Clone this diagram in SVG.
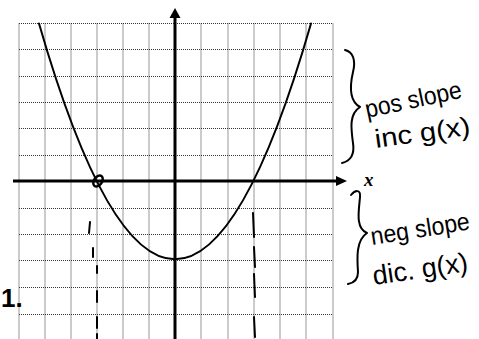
<svg xmlns="http://www.w3.org/2000/svg" width="479" height="339" viewBox="0 0 479 339">
<defs>
<style>
.grid line{stroke:#333;stroke-width:1;stroke-dasharray:1 1}
.axis{stroke:#000;stroke-width:3;fill:none}
.ink{stroke:#000;stroke-width:2;fill:none;stroke-linecap:round;stroke-linejoin:round}
.hand{font-family:"Liberation Sans",Arial,sans-serif;fill:#000}
</style>
</defs>
<rect width="479" height="339" fill="#fff"/>
<g id="grid" class="grid">
<line x1="19" y1="23.5" x2="19" y2="339"/>
<line x1="45" y1="23.5" x2="45" y2="339"/>
<line x1="71" y1="23.5" x2="71" y2="339"/>
<line x1="97" y1="23.5" x2="97" y2="339"/>
<line x1="123" y1="23.5" x2="123" y2="339"/>
<line x1="149" y1="23.5" x2="149" y2="339"/>
<line x1="201" y1="23.5" x2="201" y2="339"/>
<line x1="228" y1="23.5" x2="228" y2="339"/>
<line x1="254" y1="23.5" x2="254" y2="339"/>
<line x1="280" y1="23.5" x2="280" y2="339"/>
<line x1="306" y1="23.5" x2="306" y2="339"/>
<line x1="333" y1="23.5" x2="333" y2="339"/>
<line x1="19" y1="23.5" x2="333" y2="23.5"/>
<line x1="19" y1="49.5" x2="333" y2="49.5"/>
<line x1="19" y1="76.5" x2="333" y2="76.5"/>
<line x1="19" y1="102.5" x2="333" y2="102.5"/>
<line x1="19" y1="128.5" x2="333" y2="128.5"/>
<line x1="19" y1="155.5" x2="333" y2="155.5"/>
<line x1="19" y1="208.5" x2="333" y2="208.5"/>
<line x1="19" y1="234.5" x2="333" y2="234.5"/>
<line x1="19" y1="260.5" x2="333" y2="260.5"/>
<line x1="19" y1="287.5" x2="333" y2="287.5"/>
<line x1="19" y1="314.5" x2="333" y2="314.5"/>
</g>
<g id="axes">
<line class="axis" x1="175" y1="16" x2="175" y2="339"/>
<polygon points="175,8 169.5,18 180.5,18" fill="#000"/>
<line class="axis" x1="13" y1="181" x2="338" y2="181"/>
<polygon points="347,181 336,176 336,186" fill="#000"/>
<text x="364" y="186" font-family="Liberation Serif,serif" font-style="italic" font-size="19" font-weight="bold">x</text>
</g>
<g id="curve">
<path class="ink" d="M39,23.5 Q175,495 311,23.5"/>
<ellipse cx="98" cy="181" rx="4" ry="6" transform="rotate(35 98 181)" stroke="#000" stroke-width="2.5" fill="none"/>
</g>
<g id="connectors">
<path class="ink" stroke-width="1.6" d="M90,222 L89,233 M93,248 L93,257 M97,266 L97,273 M97,291 L97,302 M97,317 L97,328 M97,334 L97,339"/>
<path class="ink" stroke-width="1.6" d="M253,213 L254,237 M254,247 L255,267 M254,274 L255,297 M254,317 L255,337"/>
</g>
<g id="brace-pos">
<path class="ink" d="M345,50 C353,52 356,60 353,72 C350,85 349,101 360,107 C349,114 351,128 353,143 C355,156 350,161 342,163"/>
<text class="hand" font-size="25" transform="translate(367 118) rotate(-12)" textLength="98" lengthAdjust="spacingAndGlyphs">pos slope</text>
<text class="hand" font-size="26" transform="translate(376 148) rotate(-8)" textLength="96" lengthAdjust="spacingAndGlyphs">inc g(x)</text>
</g>
<g id="brace-neg">
<path class="ink" d="M351,195 C355,190 361,189 360,197 C359,210 355,228 367,233 C356,240 357,258 358,272 C358,280 354,283 348,284"/>
<text class="hand" font-size="25" transform="translate(372 245) rotate(-9)" textLength="100" lengthAdjust="spacingAndGlyphs">neg slope</text>
<text class="hand" font-size="27" transform="translate(374 285) rotate(-8.5)" textLength="96" lengthAdjust="spacingAndGlyphs">dic. g(x)</text>
</g>
<g id="label">
<text class="hand" x="1" y="307" font-size="26" font-weight="bold">1.</text>
</g>
</svg>
